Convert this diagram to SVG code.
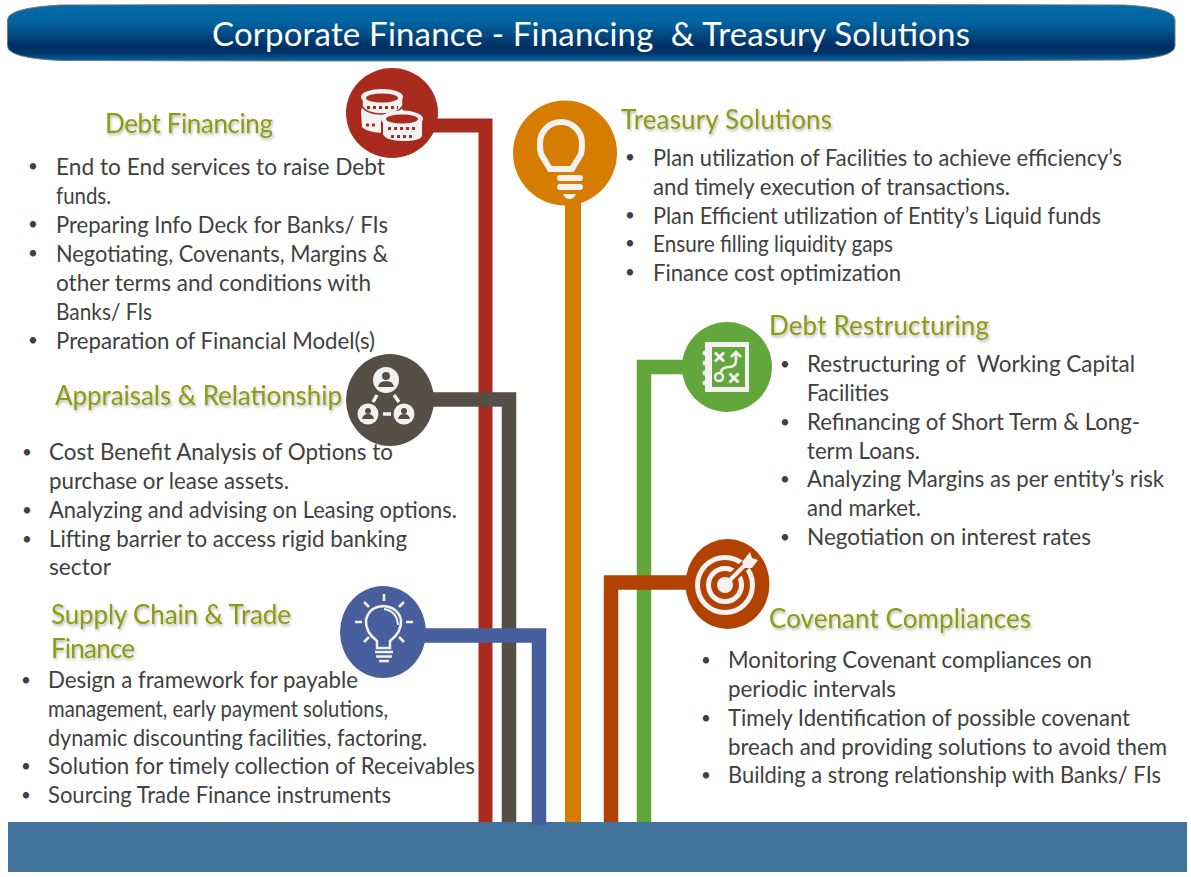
<svg xmlns="http://www.w3.org/2000/svg" width="1191" height="877" viewBox="0 0 1191 877">
<style>
text{font-family:"Lato","Open Sans","Liberation Sans",sans-serif}
.t{font-size:22.5px;fill:#404040}
.b{font-size:17px;transform:translate(1px,-2.500px)}
.h{font-size:26px;fill:#8b9c12;filter:url(#sh)}
.i{fill:#f2f2f2}
.s{fill:none;stroke:#f2f2f2}
</style>
<defs>
<linearGradient id="g" x1="0" y1="0" x2="0" y2="1"><stop offset="0" stop-color="#046aa8"/><stop offset=".3" stop-color="#0265a2"/><stop offset=".75" stop-color="#002f63"/><stop offset=".86" stop-color="#00356b"/><stop offset="1" stop-color="#0468a6"/></linearGradient>
<filter id="sh" x="-5%" y="-20%" width="110%" height="150%"><feDropShadow dx="1" dy="2" stdDeviation="1.5" flood-color="#000" flood-opacity=".3"/></filter>
</defs>
<rect width="1191" height="877" fill="#fff"/>
<g id="header">
<path d="M7.500 20Q7.500 8 60 5L300 4.500H890L1125 5Q1175 8 1175 20V46Q1175 58 1125 60L890 61H300L60 60.500Q7.500 58 7.500 46Z" fill="url(#g)" stroke="#7a7a70" stroke-width="1"/>
<text x="591" y="46" text-anchor="middle" font-size="33" fill="#fff" textLength="758" xml:space="preserve">Corporate Finance - Financing  &amp; Treasury Solutions</text>
</g>
<g id="footer"><rect x="8" y="822" width="1179" height="50" fill="#41739c"/></g>
<g id="connectors" fill="none" stroke-width="14.5">
<path d="M430 125.500H485.500V822" stroke="#a92b1e" stroke-width="14"/>
<path d="M430 399.500H509V822" stroke="#564f45"/>
<path d="M420 635.500H539V825" stroke="#475f9c"/>
<path d="M573 195V822" stroke="#d67d00" stroke-width="16"/>
<path d="M644 822V367H690" stroke="#63a73c"/>
<path d="M611 822V582.500H695" stroke="#b14201"/>
</g>
<g id="debt-financing">
<ellipse cx="392" cy="113" rx="46" ry="45" fill="#a92b1e"/>
<path d="M361 111Q362 105 368 103H396L404 111V116L388 133Q368 133 362 127Z" class="i"/>
<path d="M362 97V106Q366 114 382 114Q398 114 403 106V97Z" class="i" stroke="#a92b1e" stroke-width="1.500"/>
<ellipse cx="382" cy="97" rx="21" ry="8" class="i"/>
<ellipse cx="382" cy="98" rx="16" ry="4.500" fill="#a92b1e"/>
<path d="M367 107.500H398M366 125H378" stroke="#a92b1e" stroke-width="3" stroke-dasharray="3 3"/>
<path d="M382 119V135Q386 142 402 142Q423 142 423 135V119Z" class="i" stroke="#a92b1e" stroke-width="2"/>
<ellipse cx="402" cy="119" rx="21" ry="8.500" class="i"/>
<ellipse cx="402" cy="119" rx="16" ry="4.500" fill="#a92b1e"/>
<path d="M388 128.500H418M391 136.500H415" stroke="#a92b1e" stroke-width="3" stroke-dasharray="3 3"/>
<text class="h" x="105" y="133" textLength="168">Debt Financing</text>
<g class="t">
<text class="b" x="27" y="174">•</text><text x="56" y="175" textLength="329" lengthAdjust="spacingAndGlyphs">End to End services to raise Debt</text>
<text x="56" y="204" textLength="55" lengthAdjust="spacingAndGlyphs">funds.</text>
<text class="b" x="27" y="232">•</text><text x="56" y="233" textLength="332" lengthAdjust="spacingAndGlyphs">Preparing Info Deck for Banks/ FIs</text>
<text class="b" x="27" y="261">•</text><text x="56" y="262" textLength="332" lengthAdjust="spacingAndGlyphs">Negotiating, Covenants, Margins &amp;</text>
<text x="56" y="291" textLength="315" lengthAdjust="spacingAndGlyphs">other terms and conditions with</text>
<text x="56" y="320" textLength="96" lengthAdjust="spacingAndGlyphs">Banks/ FIs</text>
<text class="b" x="27" y="348">•</text><text x="56" y="349" textLength="319" lengthAdjust="spacingAndGlyphs">Preparation of Financial Model(s)</text>
</g>
</g>
<g id="treasury-solutions">
<ellipse cx="565" cy="153" rx="52" ry="52.500" fill="#d67d00"/>
<path d="M550 169L541 154Q540 150 540 143A21 21 0 0 1 582 143Q582 150 581 154L572 169Z" fill="none" stroke="#f2f2f2" stroke-width="6"/>
<g class="i"><rect x="557" y="175" width="26" height="6" rx="3"/><rect x="557" y="184" width="26" height="6" rx="3"/><path d="M563 194H576Q574 199 569.500 199Q565 199 563 194Z"/></g>
<text class="h" x="621" y="129" textLength="211">Treasury Solutions</text>
<g class="t">
<text class="b" x="624" y="165">•</text><text x="653" y="166" textLength="469" lengthAdjust="spacingAndGlyphs">Plan utilization of Facilities to achieve efficiency’s</text>
<text x="653" y="195" textLength="357" lengthAdjust="spacingAndGlyphs">and timely execution of transactions.</text>
<text class="b" x="624" y="223">•</text><text x="653" y="224" textLength="448" lengthAdjust="spacingAndGlyphs">Plan Efficient utilization of Entity’s Liquid funds</text>
<text class="b" x="624" y="251">•</text><text x="653" y="252" textLength="240" lengthAdjust="spacingAndGlyphs">Ensure filling liquidity gaps</text>
<text class="b" x="624" y="280">•</text><text x="653" y="281" textLength="248" lengthAdjust="spacingAndGlyphs">Finance cost optimization</text>
</g>
</g>
<g id="appraisals-relationship">
<ellipse cx="390" cy="400" rx="44" ry="46" fill="#564f45"/>
<g class="i"><circle cx="386" cy="380" r="13"/><circle cx="368" cy="414" r="10.500"/><circle cx="404" cy="414" r="10.500"/></g>
<g fill="#564f45"><circle cx="386" cy="376" r="4"/><path d="M378 387Q379 381 386 381Q393 381 394 387Z"/><circle cx="368" cy="411" r="3"/><path d="M362 419Q363 414 368 414Q373 414 374 419Z"/><circle cx="404" cy="411" r="3"/><path d="M398 419Q399 414 404 414Q409 414 410 419Z"/></g>
<path d="M377 395L373 402M394 395L399 402M383 414H391" stroke="#f2f2f2" stroke-width="3.500" fill="none"/>
<text class="h" x="55" y="405" textLength="287">Appraisals &amp; Relationship</text>
<g class="t">
<text class="b" x="21" y="460">•</text><text x="49" y="460" textLength="344" lengthAdjust="spacingAndGlyphs">Cost Benefit Analysis of Options to</text>
<text x="49" y="489" textLength="240" lengthAdjust="spacingAndGlyphs">purchase or lease assets.</text>
<text class="b" x="21" y="518">•</text><text x="49" y="518" textLength="408" lengthAdjust="spacingAndGlyphs">Analyzing and advising on Leasing options.</text>
<text class="b" x="21" y="547">•</text><text x="49" y="547" textLength="358" lengthAdjust="spacingAndGlyphs">Lifting barrier to access rigid banking</text>
<text x="49" y="575" textLength="62" lengthAdjust="spacingAndGlyphs">sector</text>
</g>
</g>
<g id="supply-chain-trade-finance">
<ellipse cx="383" cy="632" rx="43" ry="46" fill="#475f9c"/>
<path d="M377 648V641Q365 632 366 620Q369 607 383 606Q398 607 401 620Q402 632 390 641V648H377Z" class="s" stroke-width="2.500"/>
<path d="M384 609Q397 611 398 625" class="s" stroke-width="2"/>
<path d="M375 652H393M376 656.500H392M379 661H389M384 594V601M364 602L369 607M404 602L399 607M355 622H362M406 622H413M364 642L369 637M404 642L399 637" class="s" stroke-width="2.500"/>
<text class="h" x="51" y="624" textLength="240">Supply Chain &amp; Trade</text>
<text class="h" x="51" y="658" textLength="84">Finance</text>
<g class="t">
<text class="b" x="20" y="688">•</text><text x="48" y="688" textLength="310" lengthAdjust="spacingAndGlyphs">Design a framework for payable</text>
<text x="48" y="717" textLength="340" lengthAdjust="spacingAndGlyphs">management, early payment solutions,</text>
<text x="48" y="746" textLength="379" lengthAdjust="spacingAndGlyphs">dynamic discounting facilities, factoring.</text>
<text class="b" x="20" y="774">•</text><text x="48" y="774" textLength="427" lengthAdjust="spacingAndGlyphs">Solution for timely collection of Receivables</text>
<text class="b" x="20" y="803">•</text><text x="48" y="803" textLength="343" lengthAdjust="spacingAndGlyphs">Sourcing Trade Finance instruments</text>
</g>
</g>
<g id="debt-restructuring">
<ellipse cx="727" cy="367" rx="45" ry="45" fill="#63a73c"/>
<path d="M705 342H749V392H705V385.500A2.500 2.500 0 0 1 705 380.500V375.500A2.500 2.500 0 0 1 705 370.500V365.500A2.500 2.500 0 0 1 705 360.500V355.500A2.500 2.500 0 0 1 705 350.500Z" class="i"/>
<rect x="712" y="347" width="33" height="40" fill="#63a73c"/>
<path d="M715 352.500L724 361.500M724 352.500L715 361.500M729.500 373.500L738.500 382.500M738.500 373.500L729.500 382.500" class="s" stroke-width="3"/>
<circle cx="719" cy="377" r="4" class="s" stroke-width="2.500"/>
<path d="M721 372Q722 367 729 367Q736 367 736 360V352M731 357L736 352L741 357" class="s" stroke-width="2.500"/>
<text class="h" x="769" y="335" textLength="220">Debt Restructuring</text>
<g class="t">
<text class="b" x="779" y="372">•</text><text x="807" y="372" textLength="328" lengthAdjust="spacingAndGlyphs" xml:space="preserve">Restructuring of  Working Capital</text>
<text x="807" y="401" textLength="82" lengthAdjust="spacingAndGlyphs">Facilities</text>
<text class="b" x="779" y="430">•</text><text x="807" y="430" textLength="333" lengthAdjust="spacingAndGlyphs">Refinancing of Short Term &amp; Long-</text>
<text x="807" y="459" textLength="113" lengthAdjust="spacingAndGlyphs">term Loans.</text>
<text class="b" x="779" y="487">•</text><text x="807" y="487" textLength="357" lengthAdjust="spacingAndGlyphs">Analyzing Margins as per entity’s risk</text>
<text x="807" y="516" textLength="114" lengthAdjust="spacingAndGlyphs">and market.</text>
<text class="b" x="779" y="545">•</text><text x="807" y="545" textLength="284" lengthAdjust="spacingAndGlyphs">Negotiation on interest rates</text>
</g>
</g>
<g id="covenant-compliances">
<ellipse cx="727.500" cy="584" rx="42" ry="45" fill="#b14201"/>
<circle cx="725" cy="585" r="27.500" class="s" stroke-width="5"/>
<circle cx="725" cy="585" r="16.500" class="s" stroke-width="5"/>
<path d="M725 585L746 564" fill="none" stroke="#b14201" stroke-width="10"/>
<circle cx="725" cy="585" r="8" class="i"/>
<path d="M725 585L747 563" class="s" stroke-width="4"/>
<path d="M742 562L750 552L752 558L758 560L752 568L745 568Z" class="i"/>
<text class="h" x="769" y="628" textLength="262">Covenant Compliances</text>
<g class="t">
<text class="b" x="700" y="668">•</text><text x="728" y="668" textLength="364" lengthAdjust="spacingAndGlyphs">Monitoring Covenant compliances on</text>
<text x="728" y="697" textLength="168" lengthAdjust="spacingAndGlyphs">periodic intervals</text>
<text class="b" x="700" y="726">•</text><text x="728" y="726" textLength="402" lengthAdjust="spacingAndGlyphs">Timely Identification of possible covenant</text>
<text x="728" y="755" textLength="439" lengthAdjust="spacingAndGlyphs">breach and providing solutions to avoid them</text>
<text class="b" x="700" y="783">•</text><text x="728" y="783" textLength="433" lengthAdjust="spacingAndGlyphs">Building a strong relationship with Banks/ FIs</text>
</g>
</g>
</svg>
